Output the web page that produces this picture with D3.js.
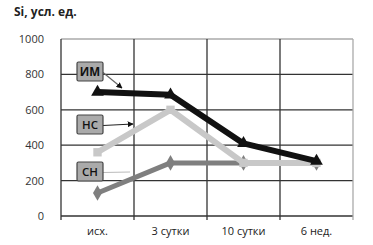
<!DOCTYPE html>
<html><head><meta charset="utf-8">
<script src="https://cdn.jsdelivr.net/npm/d3@7"></script>
<style>body{margin:0;background:#fff}svg{display:block}text{font-family:"Open Sans","Noto Sans",sans-serif}</style>
</head><body><svg id="c" width="373" height="245"></svg>
<script>
const categories = ["исх.", "3 сутки", "10 сутки", "6 нед."];
const yTicks = [0, 200, 400, 600, 800, 1000];
const seriesIM = [700, 685, 410, 310];
const seriesNS = [360, 600, 300, 300];
const seriesSN = [130, 300, 300, 300];
const seriesNames = ["ИМ", "НС", "СН"];

const svg = d3.select("#c");
const L = 61, R = 353, T = 39, B = 216;
const x = d3.scaleBand().domain(categories).range([L, R]);
const y = d3.scaleLinear().domain([0, 1000]).range([B, T]);

svg.append("g").selectAll("line").data(yTicks).join("line")
  .attr("x1", L).attr("x2", R).attr("y1", d => y(d)).attr("y2", d => y(d))
  .attr("stroke", d => d === 1000 ? "#aaa" : "#333").attr("stroke-width", 1.3);
const edges = categories.map(c => x(c)).concat([R]);
svg.append("g").selectAll("line").data(edges).join("line")
  .attr("x1", d => d).attr("x2", d => d).attr("y1", T).attr("y2", B + 4)
  .attr("stroke", (d, i) => i === edges.length - 1 ? "#aaa" : "#333").attr("stroke-width", 1.3);

svg.append("g").selectAll("text").data(yTicks).join("text")
  .attr("x", 44).attr("y", d => y(d) + 4).attr("text-anchor", "end")
  .attr("font-size", 11).attr("fill", "#333").text(d => d);
svg.append("g").selectAll("text").data(categories).join("text")
  .attr("x", d => x(d) + x.bandwidth() / 2).attr("y", 235).attr("text-anchor", "middle")
  .attr("font-size", 11).attr("fill", "#222").text(d => d);

svg.append("text").attr("x", 14).attr("y", 16).attr("font-size", 12).attr("font-weight", "bold")
  .attr("fill", "#222").text("Si, усл. ед.");

const cx = c => x(c) + x.bandwidth() / 2;
const line = d3.line().x((d, i) => cx(categories[i])).y(d => y(d));

function drawSeries(data, color, width, marker) {
  svg.append("path").datum(data).attr("d", line).attr("fill", "none")
    .attr("stroke", color).attr("stroke-width", width).attr("stroke-linejoin", "round");
  const sym = d3.symbol().type(marker).size(70);
  svg.append("g").selectAll("path").data(data).join("path")
    .attr("d", sym).attr("transform", (d, i) => `translate(${cx(categories[i])},${y(d)})`)
    .attr("fill", color);
}
drawSeries(seriesSN, "#7f7f7f", 5, d3.symbolDiamond);
drawSeries(seriesNS, "#c8c8c8", 6, d3.symbolSquare);
drawSeries(seriesIM, "#111", 6, d3.symbolTriangle);

const labels = [
  {name: seriesNames[0], bx: 77, by: 62, lx2: 122, ly2: 88, lc: "#666", arrow: true, fw: 700},
  {name: seriesNames[1], bx: 77, by: 115, lx2: 133, ly2: 124, lc: "#222", arrow: true, fw: 600},
  {name: seriesNames[2], bx: 77, by: 162, lx2: 130, ly2: 172, lc: "#bbb", arrow: false, fw: 600}
];
svg.append("defs").append("marker").attr("id", "ar").attr("viewBox", "0 0 10 10")
  .attr("refX", 9).attr("refY", 5).attr("markerWidth", 5).attr("markerHeight", 5).attr("orient", "auto")
  .append("path").attr("d", "M0,0L10,5L0,10z").attr("fill", "#111");
labels.forEach(l => {
  const w = 26, h = 19;
  svg.append("line").attr("x1", l.bx + w).attr("y1", l.by + h / 2 + 1).attr("x2", l.lx2).attr("y2", l.ly2)
    .attr("stroke", l.lc).attr("stroke-width", 1.2).attr("marker-end", l.arrow ? "url(#ar)" : null);
  svg.append("rect").attr("x", l.bx).attr("y", l.by).attr("width", w).attr("height", h)
    .attr("fill", "#aaa").attr("stroke", "#444").attr("stroke-width", 1.2).attr("rx", 1.5);
  svg.append("text").attr("x", l.bx + w / 2).attr("y", l.by + h / 2 + 4.5).attr("text-anchor", "middle")
    .attr("font-size", 11.5).attr("font-weight", l.fw).attr("fill", "#111").text(l.name);
});
</script></body></html>
